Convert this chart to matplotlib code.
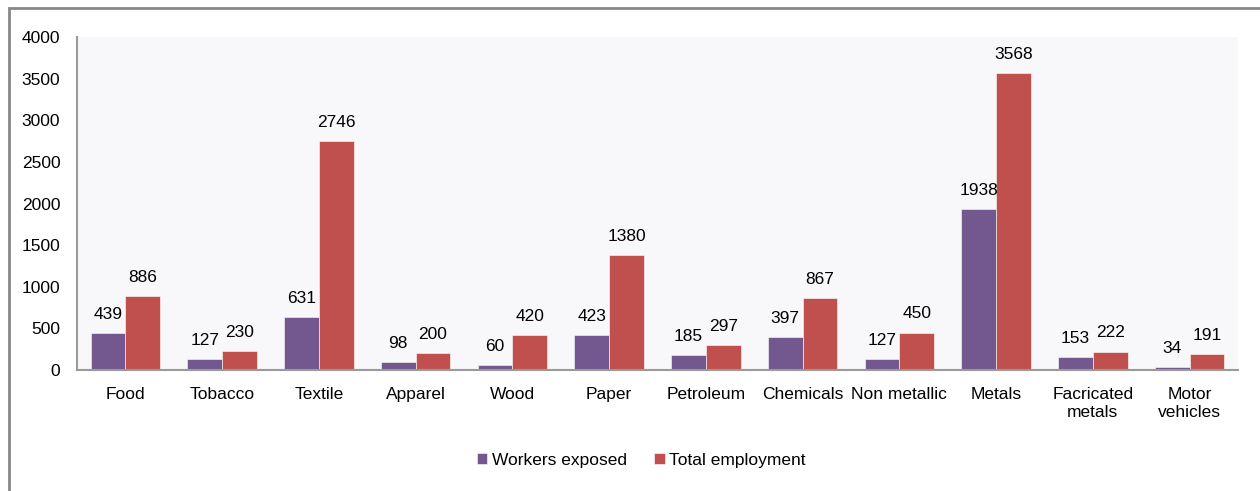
import numpy as np
from matplotlib import pyplot as plt
from matplotlib.patches import Rectangle

categories = ['Food', 'Tobacco', 'Textile', 'Apparel', 'Wood', 'Paper', 'Petroleum',
              'Chemicals', 'Non metallic', 'Metals', 'Facricated\nmetals', 'Motor\nvehicles']
workers_exposed = [439, 127, 631, 98, 60, 423, 185, 397, 127, 1938, 153, 34]
total_employment = [886, 230, 2746, 200, 420, 1380, 297, 867, 450, 3568, 222, 191]

plt.rcParams['font.family'] = ['Liberation Sans', 'DejaVu Sans']
fs = 12.5

fig = plt.figure(figsize=(12.6, 4.91), dpi=100)
ax = fig.add_axes([0.0611, 0.2464, 0.9214, 0.6782])
ax.set_facecolor('#f8f8fa')

x = np.arange(len(categories))
w = 0.36
b1 = ax.bar(x - w / 2, workers_exposed, w, color='#72588f', edgecolor='#ffffff',
            linewidth=0.4, label='Workers exposed')
b2 = ax.bar(x + w / 2, total_employment, w, color='#c0504d', edgecolor='#ffffff',
            linewidth=0.4, label='Total employment')
ax.bar_label(b1, padding=8, fontsize=fs)
ax.bar_label(b2, padding=8, fontsize=fs)

ax.set_xlim(-0.5, len(categories) - 0.5)
ax.set_ylim(0, 4000)
ax.set_yticks(range(0, 4001, 500))
ax.set_xticks(x)
ax.set_xticklabels(categories, fontsize=fs, linespacing=1.3)
ax.tick_params(axis='both', length=0, labelsize=fs)
ax.tick_params(axis='y', pad=12)
ax.tick_params(axis='x', pad=12)
for s in ['top', 'right']:
    ax.spines[s].set_visible(False)
for s in ['left', 'bottom']:
    ax.spines[s].set_color('#9a9a9a')
    ax.spines[s].set_linewidth(1.5)

fig.legend(loc='center', bbox_to_anchor=(0.509, 0.063), ncol=2, frameon=False,
           fontsize=fs, handlelength=0.58, handleheight=0.58, handletextpad=0.25,
           columnspacing=1.6)

# outer frame
fig.patches.append(Rectangle((0.0071, -0.1), 1.1, 1.0837, transform=fig.transFigure,
                             fill=False, edgecolor='#888888', linewidth=2))

fig.savefig('out.png', dpi=100)
